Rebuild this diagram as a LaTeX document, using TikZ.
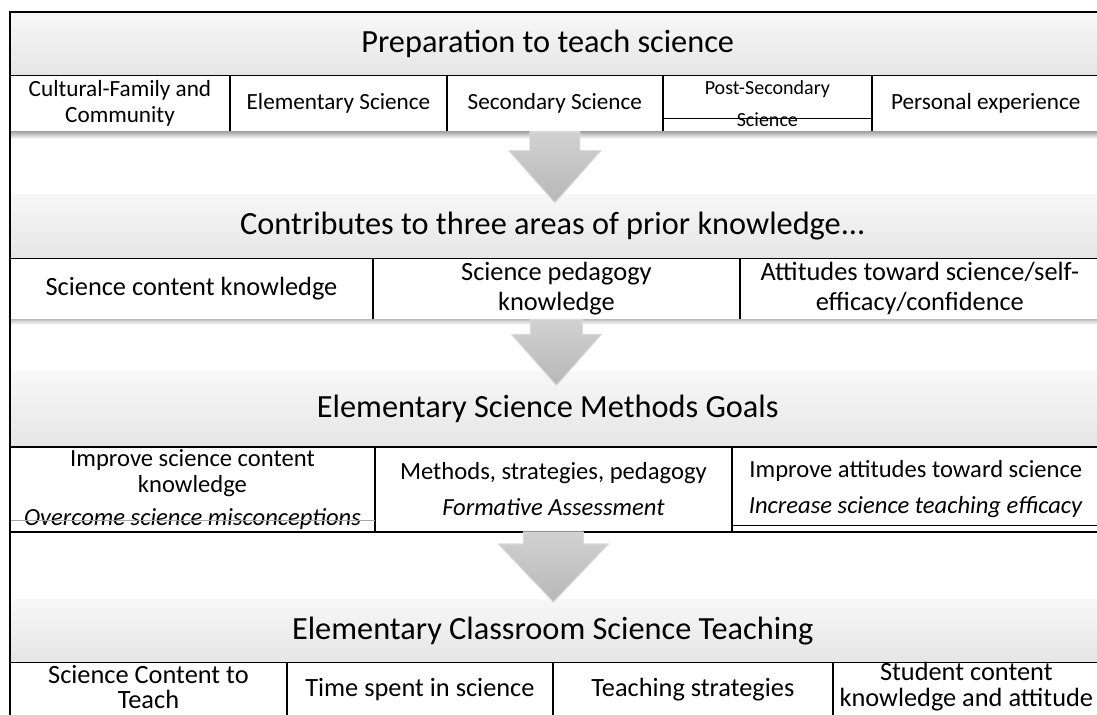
\documentclass[tikz,border=0pt]{standalone}
\usepackage{fontspec}
\setmainfont{Carlito}
\usetikzlibrary{positioning, calc}

\begin{document}
\begin{tikzpicture}[x=0.02cm, y=-0.02cm, node distance=0pt, >=stealth]
    % Styles
    \tikzstyle{band} = [rectangle, anchor=north west, minimum width=21.8cm, top color=black!3, bottom color=black!10, inner sep=0pt, font=\fontsize{18.4}{22}\selectfont]
    \tikzstyle{cell} = [rectangle, draw, line width=0.8pt, fill=white, outer sep=0pt, inner xsep=1pt, inner ysep=0pt, align=center]
    \tikzstyle{rowa} = [cell, minimum height=1.12cm, font=\fontsize{13.2}{14.8}\selectfont]
    \tikzstyle{rowb} = [cell, minimum height=1.22cm, font=\fontsize{15}{17}\selectfont]
    \tikzstyle{rowc} = [cell, minimum height=1.7cm, font=\fontsize{14}{20.5}\selectfont]
    \tikzstyle{rowd} = [cell, minimum height=1.06cm, font=\fontsize{15}{14.6}\selectfont]
    \tikzstyle{rowtext} = [inner sep=0pt, align=center, yshift=1.3pt, font=\fontsize{15}{14.6}\selectfont]
    \tikzstyle{blockarrow} = [draw=white!85!black, line width=0.6pt, top color=black!18, bottom color=black!28, line join=round]
    \tikzstyle{frame} = [draw, line width=1.1pt]
    \tikzstyle{innerline} = [draw, line width=0.5pt]

    \useasboundingbox (0,0) rectangle (1097,714);
    \clip (0,0) rectangle (1097,714);

    % Nodes
    \node [band, minimum height=1.26cm] (hd1) at (10,12) {Preparation to teach science\hspace*{0.3cm}};
    \node [rowa, anchor=north west, minimum width=4.4cm] (c1) at (hd1.south west) {Cultural-Family and\\Community};
    \node [rowa, right=of c1, minimum width=4.34cm] (c2) {Elementary Science};
    \node [rowa, right=of c2, minimum width=4.32cm] (c3) {Secondary Science};
    \node [rowa, right=of c3, minimum width=4.18cm, font=\fontsize{11.4}{18}\selectfont] (c4) {Post-Secondary\\Science};
    \node [rowa, right=of c4, minimum width=4.56cm] (c5) {Personal experience};

    \node [band, below=1.24cm of c1.south west, anchor=north west, minimum height=1.28cm] (hd2) {Contributes to three areas of prior knowledge...\hspace*{0.1cm}};
    \node [rowb, anchor=north west, minimum width=7.26cm] (p1) at (hd2.south west) {Science content knowledge};
    \node [rowb, right=of p1, minimum width=7.34cm] (p2) {Science pedagogy\\knowledge};
    \node [rowb, right=of p2, minimum width=7.2cm] (p3) {Attitudes toward science/self-\\efficacy/confidence};

    \node [band, below=1.04cm of p1.south west, anchor=north west, minimum height=1.5cm] (hd3) {Elementary Science Methods Goals\hspace*{0.3cm}};
    \node [rowc, anchor=north west, minimum width=7.3cm, font=\fontsize{14}{15}\selectfont] (g1) at (hd3.south west) {Improve science content\\knowledge\\[4pt]\textit{Overcome science misconceptions}};
    \node [rowc, right=of g1, minimum width=7.14cm] (g2) {Methods, strategies, pedagogy\\\textit{Formative Assessment}};
    \node [rowc, right=of g2, minimum width=7.36cm] (g3) {Improve attitudes toward science\\\textit{Increase science teaching efficacy}};

    \node [band, below=1.34cm of g1.south west, anchor=north west, minimum height=1.26cm] (hd4) {Elementary Classroom Science Teaching\hspace*{0.1cm}};
    \node [rowd, anchor=north west, minimum width=5.54cm, label={[rowtext]center:{Science Content to\\Teach}}] (t1) at (hd4.south west) {};
    \node [rowd, right=of t1, minimum width=5.32cm] (t2) {Time spent in science};
    \node [rowd, right=of t2, minimum width=5.6cm] (t3) {Teaching strategies};
    \node [rowd, right=of t3, minimum width=5.34cm, label={[rowtext]center:{Student content\\knowledge and attitude}}] (t4) {};

    % Shadows and inner lines
    \shade [top color=black!35, bottom color=white] (c1.south west) rectangle ([yshift=-4pt]c5.south east);
    \shade [top color=black!25, bottom color=white] (p1.south west) rectangle ([yshift=-3pt]p3.south east);
    \draw [innerline] ([yshift=0.26cm]c4.south west) -- ([yshift=0.26cm]c4.south east);
    \draw [innerline, draw=black!35] ([yshift=0.24cm]g1.south west) -- ([yshift=0.24cm]g1.south east);
    \draw [innerline] ([yshift=0.14cm]g3.south west) -- ([yshift=0.14cm]g3.south east);

    % Arrows
    \foreach \src/\sw/\hw/\nk/\len in {c3/25/46/19/71, p2/26/45/15/66, g2/30/55/12/70}
        \path [blockarrow, shift={(\src.south)}] (-\sw,0) -- (\sw,0) -- (\sw,\nk) -- (\hw,\nk) -- (0,\len) -- (-\hw,\nk) -- (-\sw,\nk) -- cycle;

    % Frame
    \draw [frame] (hd1.north west |- t1.south) -- (hd1.north west) -- (hd1.north east);
\end{tikzpicture}
\end{document}
